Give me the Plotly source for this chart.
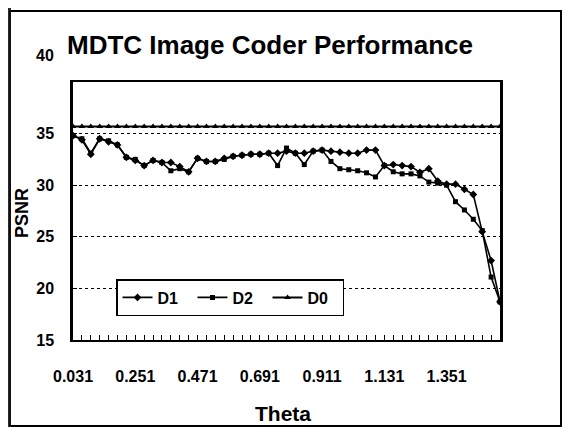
import plotly.graph_objects as go

theta = ["0.031", "0.063", "0.094", "0.126", "0.157", "0.188", "0.220", "0.251", "0.283", "0.314",
         "0.346", "0.377", "0.408", "0.440", "0.471", "0.503", "0.534", "0.565", "0.597", "0.628",
         "0.660", "0.691", "0.723", "0.754", "0.785", "0.817", "0.848", "0.880", "0.911", "0.942",
         "0.974", "1.005", "1.037", "1.068", "1.100", "1.131", "1.162", "1.194", "1.225", "1.257",
         "1.288", "1.319", "1.351", "1.382", "1.414", "1.445", "1.477", "1.508", "1.539"]

d1 = [34.8, 34.4, 33.0, 34.5, 34.2, 33.9, 32.7, 32.4, 31.9, 32.4,
      32.2, 32.2, 31.8, 31.3, 32.6, 32.3, 32.3, 32.6, 32.8, 32.9,
      33.0, 33.0, 33.1, 33.1, 33.3, 33.1, 33.1, 33.3, 33.4, 33.3,
      33.2, 33.1, 33.1, 33.4, 33.4, 31.9, 32.0, 31.9, 31.8, 31.25,
      31.6, 30.4, 30.1, 30.1, 29.6, 29.1, 25.5, 22.7, 18.7]

d2 = [34.8, 34.5, 33.1, 34.5, 34.3, 33.9, 32.7, 32.5, 31.9, 32.4,
      32.2, 31.4, 31.6, 31.3, 32.6, 32.3, 32.3, 32.5, 32.8, 32.9,
      33.0, 33.0, 33.1, 31.9, 33.6, 33.1, 32.0, 33.3, 33.4, 32.3,
      31.6, 31.5, 31.4, 31.2, 30.8, 31.9, 31.3, 31.1, 31.1, 30.9,
      30.3, 30.2, 30.0, 28.4, 27.6, 26.7, 25.6, 21.1, 18.7]

d0 = [35.7] * len(theta)

label_vals = ["0.031", "0.251", "0.471", "0.691", "0.911", "1.131", "1.351"]
tick_text = [t if t in label_vals else "" for t in theta]

y_ticks = [15, 20, 25, 30, 35, 40]
y_tick_text = ["15", "20", "25", "30", "35", ""]

FONT = "Arial, Liberation Sans, sans-serif"

fig = go.Figure()
fig.add_trace(go.Scatter(x=theta, y=d1, name="D1", mode="lines+markers",
                         line=dict(color="black", width=1.6),
                         marker=dict(symbol="diamond", size=6, color="black")))
fig.add_trace(go.Scatter(x=theta, y=d2, name="D2", mode="lines+markers",
                         line=dict(color="black", width=1.6),
                         marker=dict(symbol="square", size=5, color="black")))
fig.add_trace(go.Scatter(x=theta, y=d0, name="D0", mode="lines+markers",
                         line=dict(color="black", width=2),
                         marker=dict(symbol="triangle-up", size=6, color="black")))

# page body has an 8px margin: design coords = reference coords - 8
OFF = 8
W, H = 570 - 2 * OFF, 435 - 2 * OFF
L, R, T, B = 73 - OFF, 500 - OFF, 82 - OFF, 340 - OFF


def px(x):
    return (x - OFF - L) / (R - L)


def py(y):
    return (B - (y - OFF)) / (B - T)


fig.update_layout(
    width=W, height=H,
    margin=dict(l=L, r=W - R, t=T, b=H - B, pad=0),
    paper_bgcolor="white", plot_bgcolor="white",
    font=dict(family=FONT, color="black"),
    showlegend=True,
    legend=dict(orientation="h", x=px(116), y=py(279), xanchor="left", yanchor="top",
                bordercolor="black", borderwidth=1.5, bgcolor="white",
                font=dict(family=FONT, size=16, weight=700, color="black"),
                entrywidth=30, itemwidth=30, tracegroupgap=0),
    xaxis=dict(type="category", categoryorder="array", categoryarray=theta,
               range=[0, len(theta) - 1],
               tickmode="array", tickvals=theta, ticktext=tick_text,
               ticks="inside", ticklen=5, tickwidth=1, tickcolor="black",
               showline=True, linewidth=2, linecolor="black", mirror=True,
               showgrid=False, zeroline=False,
               tickfont=dict(family=FONT, size=16, weight=700, color="black"),
               ticklabelstandoff=21, tickangle=0),
    yaxis=dict(range=[15, 40], tickmode="array", tickvals=y_ticks, ticktext=y_tick_text,
               ticks="inside", ticklen=4, tickwidth=1, tickcolor="black",
               showline=True, linewidth=2.5, linecolor="black", mirror=True,
               showgrid=True, gridcolor="black", griddash="dot", gridwidth=1.2,
               zeroline=False,
               tickfont=dict(family=FONT, size=16, weight=700, color="black"),
               ticklabelstandoff=13),
    annotations=[
        dict(text="MDTC Image Coder Performance", xref="paper", yref="paper",
             x=px(270), y=py(45), showarrow=False, xanchor="center", yanchor="middle",
             font=dict(family=FONT, size=26, weight=700, color="black")),
        dict(text="40", xref="paper", yref="paper", x=px(56), y=py(55),
             showarrow=False, xanchor="right", yanchor="middle",
             font=dict(family=FONT, size=16, weight=700, color="black")),
        dict(text="PSNR", xref="paper", yref="paper", x=px(22), y=py(213),
             showarrow=False, textangle=-90, xanchor="center", yanchor="middle",
             font=dict(family=FONT, size=18, weight=700, color="black")),
        dict(text="Theta", xref="paper", yref="paper", x=px(283), y=py(413),
             showarrow=False, xanchor="center", yanchor="middle",
             font=dict(family=FONT, size=21, weight=700, color="black")),
    ],
    shapes=[
        dict(type="rect", xref="paper", yref="paper",
             x0=px(10), x1=px(561), y0=py(426), y1=py(11),
             line=dict(color="black", width=2), fillcolor="rgba(0,0,0,0)", layer="below"),
        dict(type="rect", xref="paper", yref="paper",
             x0=px(8), x1=px(11), y0=py(427), y1=py(8),
             line=dict(width=0), fillcolor="rgba(20,20,20,0.9)", layer="below"),
    ],
)

fig.write_html("out.html")
